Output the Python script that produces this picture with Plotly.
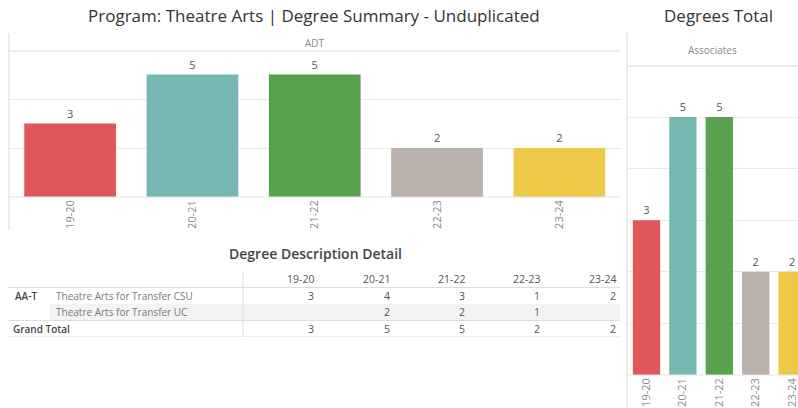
import plotly.graph_objects as go

# ---------------- data ----------------
years = ["19-20", "20-21", "21-22", "22-23", "23-24"]
adt_values = [3, 5, 5, 2, 2]
assoc_values = [3, 5, 5, 2, 2]
bar_colors = ["#E15759", "#76B7B2", "#59A14F", "#BAB0AC", "#EDC948"]

table_group = "AA-T"
table_rows = ["Theatre Arts for Transfer CSU", "Theatre Arts for Transfer UC"]
csu_values = [3, 4, 3, 1, 2]
uc_values = [None, 2, 2, 1, None]
grand_total = [3, 5, 5, 2, 2]

title_main = "Program: Theatre Arts | Degree Summary - Unduplicated"
title_right = "Degrees Total"
title_table = "Degree Description Detail"
header_left = "ADT"
header_right = "Associates"

# ---------------- layout helpers ----------------
W, H = 798, 408
FONT = "Open Sans"


def px(x):
    return x / W


def py(y):
    return 1 - y / H


fig = go.Figure()

fig.add_trace(go.Bar(
    x=years, y=adt_values, marker=dict(color=bar_colors, line=dict(width=0)),
    text=adt_values, textposition="outside", cliponaxis=False,
    textfont=dict(size=11, color="#555555", family=FONT),
    xaxis="x", yaxis="y", hoverinfo="skip", showlegend=False))

fig.add_trace(go.Bar(
    x=years, y=assoc_values, marker=dict(color=bar_colors, line=dict(width=0)),
    text=assoc_values, textposition="outside", cliponaxis=False,
    textfont=dict(size=11, color="#555555", family=FONT),
    xaxis="x2", yaxis="y2", hoverinfo="skip", showlegend=False))

# invisible trace to establish table axes
fig.add_trace(go.Scatter(x=[0], y=[0], mode="markers", marker=dict(opacity=0),
                         xaxis="x3", yaxis="y3", hoverinfo="skip", showlegend=False))

axis_common = dict(showline=False, zeroline=False, fixedrange=True)

fig.update_layout(
    width=W, height=H,
    margin=dict(l=0, r=0, t=0, b=0),
    paper_bgcolor="white", plot_bgcolor="white",
    bargap=0.25,
    font=dict(family=FONT, color="#555555"),
    xaxis=dict(domain=[px(9), px(620.5)], type="category", tickangle=-90,
               tickfont=dict(size=11, color="#8a8a8a"), showgrid=False,
               ticks="", anchor="y", **axis_common),
    yaxis=dict(domain=[py(197), py(51)], range=[0, 5.96], dtick=2,
               showticklabels=False, gridcolor="#ebebeb", gridwidth=1,
               anchor="x", **axis_common),
    xaxis2=dict(domain=[px(628.3), 1], type="category", tickangle=-90,
                range=[-0.5, (W - 628.3) / 36.4 - 0.5],
                tickfont=dict(size=11, color="#8a8a8a"), showgrid=False,
                ticks="", anchor="y2", **axis_common),
    yaxis2=dict(domain=[py(375), py(66)], range=[0, 5.99], dtick=1,
                showticklabels=False, gridcolor="#ebebeb", gridwidth=1,
                anchor="x2", **axis_common),
    xaxis3=dict(domain=[px(243), px(620)], range=[-0.5, 4.5], visible=False,
                anchor="y3", **axis_common),
    yaxis3=dict(domain=[py(337), py(271)], range=[3.5, -0.5], visible=False,
                anchor="x3", **axis_common),
)

ann = []
shapes = []


def label(text, x, y, size, color, weight=400, **kw):
    d = dict(text=text, x=x, y=y, xref="paper", yref="paper", showarrow=False,
             xanchor="center", yanchor="middle",
             font=dict(size=size, color=color, family=FONT, weight=weight))
    d.update(kw)
    return d


# titles
ann.append(label(title_main, px(314), py(16), 17, "#333333"))
ann.append(label(title_right, px(718), py(16), 17, "#333333"))
ann.append(label(header_left, px(315), py(43), 10, "#8a8a8a"))
ann.append(label(header_right, px(712), py(50), 10, "#8a8a8a"))
ann.append(label(title_table, px(315), py(253), 14, "#444444", weight=600))

# panel lines
line_c = "#d9d9d9"
shapes += [
    dict(type="line", xref="paper", yref="paper", x0=px(9), x1=px(9), y0=py(33), y1=py(230),
         line=dict(color=line_c, width=1)),
    dict(type="line", xref="paper", yref="paper", x0=px(9), x1=px(620), y0=py(51), y1=py(51),
         line=dict(color=line_c, width=1)),
    dict(type="line", xref="paper", yref="paper", x0=px(9), x1=px(620), y0=py(197), y1=py(197),
         line=dict(color="#e3e3e3", width=1)),
    dict(type="line", xref="paper", yref="paper", x0=px(627), x1=px(627), y0=py(33), y1=py(408),
         line=dict(color=line_c, width=1)),
    dict(type="line", xref="paper", yref="paper", x0=px(627), x1=1, y0=py(66), y1=py(66),
         line=dict(color=line_c, width=1)),
    dict(type="line", xref="paper", yref="paper", x0=px(627), x1=1, y0=py(375), y1=py(375),
         line=dict(color="#e3e3e3", width=1)),
]

# table
shapes.append(dict(type="rect", xref="paper", yref="y3", x0=px(50), x1=px(620),
                   y0=1.5, y1=2.5, fillcolor="#f3f3f3", line=dict(width=0), layer="below"))
for yb in [0.5, 2.5, 3.5]:
    shapes.append(dict(type="line", xref="paper", yref="y3", x0=px(8), x1=px(620),
                       y0=yb, y1=yb, line=dict(color="#dcdcdc", width=1)))
shapes.append(dict(type="line", xref="paper", yref="y3", x0=px(243), x1=px(243),
                   y0=-0.5, y1=3.5, line=dict(color="#dcdcdc", width=1)))

cell_font = dict(size=10.5, color="#555555", family=FONT)
for i, yr in enumerate(years):
    ann.append(dict(text=yr, x=i + 0.47, y=0, xref="x3", yref="y3", xanchor="right",
                    yanchor="middle", showarrow=False, font=cell_font))
    for r, vals in enumerate([csu_values, uc_values, grand_total]):
        v = vals[i]
        if v is None:
            continue
        ann.append(dict(text=str(v), x=i + 0.47, y=r + 1, xref="x3", yref="y3",
                        xanchor="right", yanchor="middle", showarrow=False, font=cell_font))

ann.append(dict(text=table_group, x=px(13), y=1, xref="paper", yref="y3",
                xanchor="left", yanchor="middle", showarrow=False,
                font=dict(size=10, color="#444444", family=FONT, weight=600)))
for r, name in enumerate(table_rows):
    ann.append(dict(text=name, x=px(54), y=r + 1, xref="paper", yref="y3",
                    xanchor="left", yanchor="middle", showarrow=False,
                    font=dict(size=10, color="#7a7a7a", family=FONT)))
ann.append(dict(text="Grand Total", x=px(11), y=3, xref="paper", yref="y3",
                xanchor="left", yanchor="middle", showarrow=False,
                font=dict(size=10, color="#444444", family=FONT, weight=600)))

fig.update_layout(annotations=ann, shapes=shapes)

fig.write_html("out.html", config={"displayModeBar": False},
               post_script="document.body.style.margin='0';document.body.style.overflow='hidden';")
